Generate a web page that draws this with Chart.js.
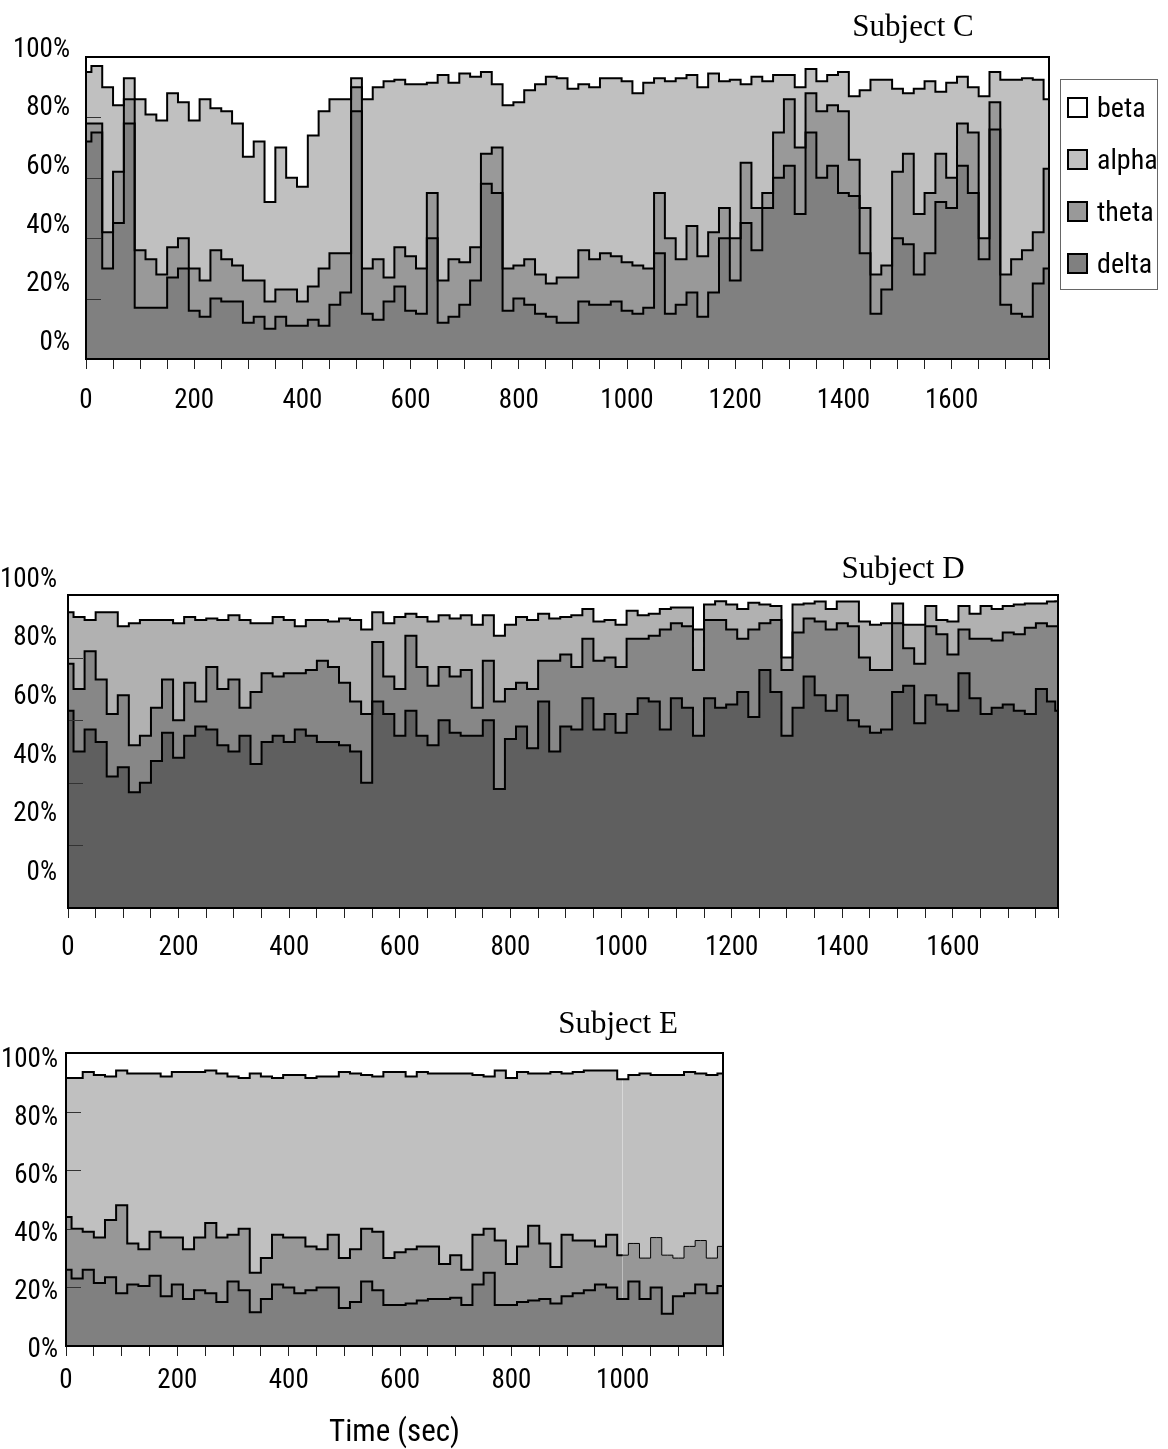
<!DOCTYPE html>
<html>
<head>
<meta charset="utf-8">
<title>Band power over time - Subjects C, D, E</title>
<script src="https://cdn.jsdelivr.net/npm/chart.js@4.4.1/dist/chart.umd.min.js"></script>
<style>
  html, body { margin: 0; padding: 0; background: #fff; }
  #page { position: relative; width: 1168px; height: 1449px; }
  canvas { position: absolute; left: 0; }
</style>
</head>
<body>
<div id="page">
  <canvas id="chartC" width="1168" height="430" style="top:0"></canvas>
  <canvas id="chartD" width="1168" height="430" style="top:540px"></canvas>
  <canvas id="chartE" width="1168" height="449" style="top:1000px"></canvas>
</div>
<script>
// ---------------------------------------------------------------
// data: upper edge (cumulative %) of delta, theta and alpha bands,
// one sample every 20 s. beta fills the rest up to 100 %.
// ---------------------------------------------------------------
const bandNames = ['delta', 'theta', 'alpha', 'beta'];
const yTickLabels = [0, 20, 40, 60, 80, 100];

// Subject C
const timeC = [
  0, 20, 40, 60, 80, 100, 120, 140, 160, 180,
  200, 220, 240, 260, 280, 300, 320, 340, 360, 380,
  400, 420, 440, 460, 480, 500, 520, 540, 560, 580,
  600, 620, 640, 660, 680, 700, 720, 740, 760, 780,
  800, 820, 840, 860, 880, 900, 920, 940, 960, 980,
  1000, 1020, 1040, 1060, 1080, 1100, 1120, 1140, 1160, 1180,
  1200, 1220, 1240, 1260, 1280, 1300, 1320, 1340, 1360, 1380,
  1400, 1420, 1440, 1460, 1480, 1500, 1520, 1540, 1560, 1580,
  1600, 1620, 1640, 1660, 1680, 1700, 1720, 1740, 1760, 1780
];
const alphaTopC = [
  95, 97, 90, 84, 93, 86, 81, 79, 88, 85,
  79, 86, 83, 82, 78, 67, 72, 52, 70, 60,
  57, 74, 82, 86, 86, 93, 86, 90, 92, 92.5,
  91, 91, 91.5, 94, 91.5, 94.5, 93.5, 95, 91, 84,
  85, 89, 91, 93.5, 93, 89.5, 91, 90, 93, 93,
  92, 88, 91.5, 93, 92, 93, 94, 90, 94.5, 92,
  92.5, 91, 93.5, 92, 94, 94, 90, 96, 92, 94,
  95, 87, 89, 92.5, 92.5, 89.5, 88, 89.5, 92, 88.5,
  91.5, 93.5, 90, 87, 95, 92.5, 92.5, 93, 92.5, 86
];
const thetaTopC = [
  78, 78, 42, 62, 86, 36, 33, 28, 37, 40,
  30, 26, 36, 33, 31, 26, 26, 19, 23, 23,
  19, 24, 30, 35, 35, 90, 30, 33, 27, 37,
  34, 30, 55, 26, 33, 32, 37, 68, 70, 30,
  31, 33, 28, 25, 27, 27, 36, 33, 35, 34,
  32, 31, 30, 55, 40, 33, 44, 34, 42, 50,
  40, 65, 50, 55, 75, 86, 70, 88, 82, 84,
  82, 66, 50, 28, 31, 62, 68, 48, 55, 68,
  60, 78, 75, 40, 85, 28, 33, 36, 42, 63
];
const deltaTopC = [
  72, 75, 30, 45, 78, 17, 17, 17, 27, 30,
  16, 14, 20, 19, 19, 12, 14, 10, 14, 11,
  11, 13, 11, 18, 22, 82, 15, 13, 19, 24,
  16, 15, 40, 12, 14, 18, 26, 58, 55, 16,
  20, 18, 15, 14, 12, 12, 19, 18, 18, 19,
  16, 15, 17, 35, 15, 18, 22, 14, 22, 40,
  26, 45, 36, 50, 60, 64, 48, 75, 60, 64,
  55, 54, 35, 15, 23, 40, 38, 28, 35, 52,
  50, 64, 55, 33, 76, 18, 15, 14, 25, 30
];

// Subject D
const timeD = [
  0, 20, 40, 60, 80, 100, 120, 140, 160, 180,
  200, 220, 240, 260, 280, 300, 320, 340, 360, 380,
  400, 420, 440, 460, 480, 500, 520, 540, 560, 580,
  600, 620, 640, 660, 680, 700, 720, 740, 760, 780,
  800, 820, 840, 860, 880, 900, 920, 940, 960, 980,
  1000, 1020, 1040, 1060, 1080, 1100, 1120, 1140, 1160, 1180,
  1200, 1220, 1240, 1260, 1280, 1300, 1320, 1340, 1360, 1380,
  1400, 1420, 1440, 1460, 1480, 1500, 1520, 1540, 1560, 1580,
  1600, 1620, 1640, 1660, 1680, 1700, 1720, 1740, 1760, 1780,
  1790
];
const alphaTopD = [
  94.5, 93, 92, 94.5, 94.5, 90, 91, 92, 92, 92,
  91, 93, 92, 92.5, 92, 93.5, 92, 91, 91, 93,
  92, 90, 92, 92, 91.5, 92.5, 92, 89, 94.5, 91,
  93, 94, 93, 91.5, 93.5, 92.5, 93.5, 90.5, 93.5, 87,
  90.5, 93, 92, 94, 92.5, 93, 93.5, 95.5, 91.5, 92,
  90.5, 95, 93.5, 94, 95.5, 96, 96, 89, 97, 98,
  97, 95.5, 97.5, 97, 96.5, 80, 97, 97.3, 97.9, 95.5,
  97.9, 97.9, 91.5, 90.5, 91, 97.3, 90.5, 90.5, 96.5, 92,
  91.5, 96.5, 94, 96.5, 95.5, 96.5, 97, 97.3, 97.3, 97.9,
  98
];
const thetaTopD = [
  78, 70, 82, 73, 62, 68, 52, 55, 64, 73,
  60, 72, 66, 77, 70, 73, 64, 69, 75, 74,
  75, 75, 76, 79, 77, 72, 66, 62, 85, 74,
  70, 87, 77, 71, 77, 74, 76, 64, 79, 66,
  70, 72, 70, 79, 79, 81, 77, 86, 79, 80,
  77, 86, 86, 87, 89, 91, 90, 76, 92, 92,
  89, 86, 89, 91, 92, 76, 88, 92.5, 91.5, 89,
  91, 90, 80, 76, 76, 91, 83, 78, 90, 87.5,
  81, 89, 86, 86, 85.5, 88, 87.5, 89.5, 91, 90,
  90
];
const deltaTopD = [
  63, 50, 57, 53, 42, 45, 37, 40, 47, 56,
  48, 55, 58, 57, 52, 50, 55, 46, 53, 55,
  53, 57, 55, 53, 53, 52, 50, 40, 66, 62,
  55, 63, 55, 52, 60, 56, 55, 55, 60, 38,
  54, 58, 51, 66, 50, 58, 57, 67, 57, 62,
  56, 62, 67, 66, 57, 67, 64, 55, 67, 64,
  65, 69, 61, 76, 69, 55, 64, 74, 68, 63,
  68, 60, 58, 56, 57, 69, 71, 59, 68, 65,
  63, 75, 67, 62, 64, 65, 63, 62, 70, 66,
  63
];

// Subject E
const timeE = [
  0, 20, 40, 60, 80, 100, 120, 140, 160, 180,
  200, 220, 240, 260, 280, 300, 320, 340, 360, 380,
  400, 420, 440, 460, 480, 500, 520, 540, 560, 580,
  600, 620, 640, 660, 680, 700, 720, 740, 760, 780,
  800, 820, 840, 860, 880, 900, 920, 940, 960, 980,
  1000, 1020, 1040, 1060, 1080, 1100, 1120, 1140, 1160, 1180
];
const alphaTopE = [
  91.5, 91.5, 93.5, 92.5, 92, 94, 93, 93, 93, 92,
  93.5, 93.5, 93.5, 94, 93, 92, 91.5, 93, 92, 91.5,
  92.5, 92.5, 91.5, 92, 92, 93.5, 93, 92.5, 92, 93.5,
  93.5, 92, 93.5, 93, 93, 93, 93, 92.5, 92, 94,
  91.5, 93.5, 93, 93, 93.5, 93, 93.5, 94, 94, 94,
  91, 92.5, 93, 92.5, 92.5, 92.5, 93.5, 93, 92.5, 93
];
const thetaTopE = [
  44, 40, 39, 37, 43, 48, 35, 33, 39, 37,
  37, 33, 37, 42, 37, 38, 40, 25, 30, 38,
  37, 37, 34, 33, 38, 30, 33, 40, 39, 30,
  32, 33, 34, 34, 28, 31, 26, 38, 40, 36,
  28, 34, 41, 35, 27, 38, 36, 36, 34, 38,
  31, 35, 30, 37, 31, 30, 34, 36, 30, 34
];
const deltaTopE = [
  26, 23, 26, 21.5, 23.5, 18, 21, 20.5, 24, 17,
  21, 16, 19, 18, 15, 22, 19, 11.5, 16, 21,
  20, 18, 19, 20, 20, 13, 15, 22, 19, 14,
  14, 14.5, 15.5, 16, 16, 16.5, 14, 21, 25, 14,
  14, 15, 15.5, 16, 14.5, 17, 18, 19, 21, 20,
  16, 22, 16, 20, 11, 17, 18, 21, 18, 20.5
];

// ---------------------------------------------------------------
// drawing
// ---------------------------------------------------------------
// Roboto is a variable font here, so "condensed" gives a narrow face
const SANS = 'Roboto, "Liberation Sans", Arial, sans-serif';
const SERIF = '"Liberation Serif", "Times New Roman", serif';

Chart.defaults.font.family = SANS;
Chart.defaults.font.weight = 'condensed';
Chart.defaults.color = '#000';

// frame, inner y marks, panel title and the boxed legend
const panelDecor = {
  id: 'panelDecor',
  afterDraw(chart, args, o) {
    const ctx = chart.ctx;
    const a = chart.chartArea;
    const y = chart.scales.y;
    ctx.save();

    ctx.strokeStyle = '#333';
    ctx.lineWidth = 1;
    yTickLabels.filter(v => v > 0 && v < 100).forEach(v => {
      const py = Math.round(y.getPixelForValue(v)) + 0.5;
      ctx.beginPath();
      ctx.moveTo(a.left, py);
      ctx.lineTo(a.left + 15, py);
      ctx.stroke();
    });

    ctx.strokeStyle = '#000';
    ctx.lineWidth = 2;
    ctx.strokeRect(a.left, a.top, a.right - a.left, a.bottom - a.top);

    ctx.fillStyle = '#000';
    ctx.font = '31px ' + SERIF;
    ctx.textAlign = 'center';
    ctx.textBaseline = 'middle';
    ctx.fillText(o.title, o.titleX, o.titleY);

    if (o.legend) {
      const L = o.legend;
      ctx.strokeStyle = '#666';
      ctx.lineWidth = 1;
      ctx.strokeRect(L.left + 0.5, L.top + 0.5, L.width, L.height);
      ctx.font = 'condensed 28px ' + SANS;
      ctx.textAlign = 'left';
      chart.data.datasets.slice().reverse().forEach((ds, i) => {
        const cy = L.top + L.first + i * L.gap;
        ctx.fillStyle = ds.backgroundColor;
        ctx.fillRect(L.left + 8, cy - 10, 19, 19);
        ctx.strokeStyle = '#000';
        ctx.lineWidth = 2;
        ctx.strokeRect(L.left + 8, cy - 10, 19, 19);
        ctx.fillStyle = '#000';
        ctx.fillText(ds.label, L.left + 37, cy + 2);
      });
    }
    ctx.restore();
  }
};

function makeDatasets(p) {
  const share = {
    delta: p.deltaTop.slice(),
    theta: p.thetaTop.map((v, i) => v - p.deltaTop[i]),
    alpha: p.alphaTop.map((v, i) => v - p.thetaTop[i]),
    beta: p.alphaTop.map(v => 100 - v)
  };
  return bandNames.map((band, k) => ({
    label: band,
    data: p.time.map((t, i) => ({ x: t, y: share[band][i] })),
    backgroundColor: p.colors[band],
    borderColor: '#000',
    borderWidth: band === 'beta' ? 0 : 2,
    fill: k === 0 ? 'origin' : '-1',
    stepped: 'middle',
    pointRadius: 0,
    segment: (band === 'theta' && p.thinAfter)
      ? { borderWidth: ctx => (ctx.p0.parsed.x >= p.thinAfter ? 1 : 2) }
      : undefined
  }));
}

function drawPanel(p) {
  return new Chart(document.getElementById(p.id), {
    type: 'line',
    data: { datasets: makeDatasets(p) },
    plugins: [panelDecor],
    options: {
      responsive: false,
      animation: false,
      devicePixelRatio: 1,
      events: [],
      layout: { padding: { top: p.padTop, right: p.padRight, left: 0, bottom: 0 } },
      plugins: {
        legend: { display: false },
        tooltip: { enabled: false },
        filler: { drawTime: 'beforeDatasetsDraw' },
        panelDecor: { title: p.title, titleX: p.titleX, titleY: p.titleY, legend: p.legend }
      },
      scales: {
        x: {
          type: 'linear',
          bounds: 'data',
          min: 0,
          max: p.tMax,
          border: { display: false },
          grid: { drawOnChartArea: false, drawTicks: true, tickLength: 10, color: '#222' },
          ticks: {
            stepSize: 50,
            includeBounds: false,
            autoSkip: false,
            maxRotation: 0,
            padding: p.xLabelPad,
            font: { size: 27 },
            callback: v => (v % 200 === 0 ? String(v) : '')
          },
          title: p.xTitle
            ? { display: true, text: p.xTitle, font: { size: 31 }, padding: { top: 0, bottom: -3 } }
            : { display: false },
          afterFit: s => { s.height = p.xAxisHeight; }
        },
        y: {
          stacked: true,
          bounds: 'data',
          min: 0,
          max: 100,
          border: { display: false },
          grid: { display: false, drawTicks: false },
          ticks: {
            autoSkip: false,
            padding: p.yLabelPad,
            font: { size: 27 },
            callback: (v, i, ticks) => ticks[i].pct + '%'
          },
          // labels sit slightly off the marks, as in the printed figure
          afterBuildTicks: s => {
            s.ticks = yTickLabels.map(pct => ({ value: p.yLabelAt[0] + p.yLabelAt[1] * pct, pct }));
          },
          afterFit: s => { s.width = p.yAxisWidth; }
        }
      }
    }
  });
}

drawPanel({
  id: 'chartC', title: 'Subject C', titleX: 913, titleY: 28,
  time: timeC, deltaTop: deltaTopC, thetaTop: thetaTopC, alphaTop: alphaTopC,
  tMax: 1780,
  colors: { delta: '#808080', theta: '#999999', alpha: '#c0c0c0', beta: '#ffffff' },
  padTop: 57, padRight: 119, yAxisWidth: 86, xAxisHeight: 71,
  xLabelPad: 16, yLabelPad: 16, yLabelAt: [5.3, 0.97],
  legend: { left: 1060, top: 79, width: 97, height: 210, first: 29, gap: 52 }
});

drawPanel({
  id: 'chartD', title: 'Subject D', titleX: 903, titleY: 30,
  time: timeD, deltaTop: deltaTopD, thetaTop: thetaTopD, alphaTop: alphaTopD,
  tMax: 1790,
  colors: { delta: '#5f5f5f', theta: '#878787', alpha: '#b1b1b1', beta: '#ffffff' },
  padTop: 55, padRight: 110, yAxisWidth: 68, xAxisHeight: 62,
  xLabelPad: 14, yLabelPad: 11, yLabelAt: [11.2, 0.936]
});

drawPanel({
  id: 'chartE', title: 'Subject E', titleX: 618, titleY: 25,
  time: timeE, deltaTop: deltaTopE, thetaTop: thetaTopE, alphaTop: alphaTopE,
  tMax: 1180, thinAfter: 1000,
  colors: { delta: '#808080', theta: '#979797', alpha: '#c0c0c0', beta: '#ffffff' },
  padTop: 53, padRight: 445, yAxisWidth: 66, xAxisHeight: 103,
  xLabelPad: 9, yLabelPad: 8, yLabelAt: [-1.4, 0.99],
  xTitle: 'Time (sec)'
});
</script>
</body>
</html>
